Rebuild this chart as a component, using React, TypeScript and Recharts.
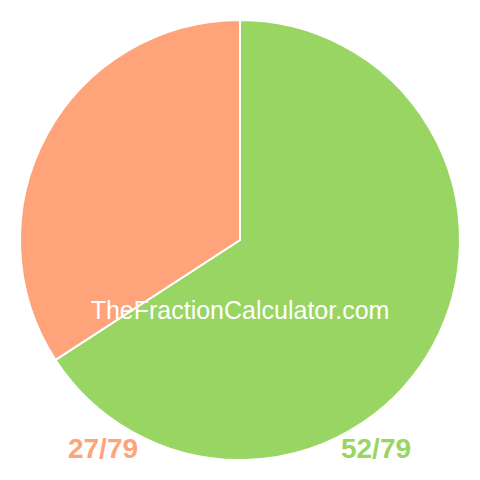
import React from 'react';
import { PieChart, Pie, Cell } from 'recharts';

// fraction parts
const names = ['52/79', '27/79'];
const values = [52, 27];
const colors = ['#99d562', '#ffa47a'];
const watermark = 'TheFractionCalculator.com';

const data = names.map((name, i) => ({ name, value: values[i] }));

const font = 'Liberation Sans, Arial, sans-serif';

export default function App() {
  return (
    <div style={{ position: 'fixed', left: 0, top: 0, width: 480, height: 480, background: '#fff' }}>
      <PieChart width={480} height={480} margin={{ top: 0, right: 0, bottom: 0, left: 0 }}>
        <Pie
          data={data}
          dataKey="value"
          nameKey="name"
          cx={240}
          cy={240}
          outerRadius={220}
          startAngle={90}
          endAngle={-270}
          stroke="#ffffff"
          strokeWidth={2}
          isAnimationActive={false}
        >
          {data.map((d, i) => (
            <Cell key={d.name} fill={colors[i]} />
          ))}
        </Pie>
      </PieChart>
      {/* overlay texts on top of the pie */}
      <svg width={480} height={480} style={{ position: 'absolute', left: 0, top: 0, pointerEvents: 'none' }}>
        <text x={240} y={319} textAnchor="middle" fill="#ffffff" style={{ fontFamily: font, fontSize: 25 }}>
          {watermark}
        </text>
        <text x={103} y={458} textAnchor="middle" fill={colors[1]} style={{ fontFamily: font, fontSize: 28, fontWeight: 'bold' }}>
          {names[1]}
        </text>
        <text x={376} y={458} textAnchor="middle" fill={colors[0]} style={{ fontFamily: font, fontSize: 28, fontWeight: 'bold' }}>
          {names[0]}
        </text>
      </svg>
    </div>
  );
}
